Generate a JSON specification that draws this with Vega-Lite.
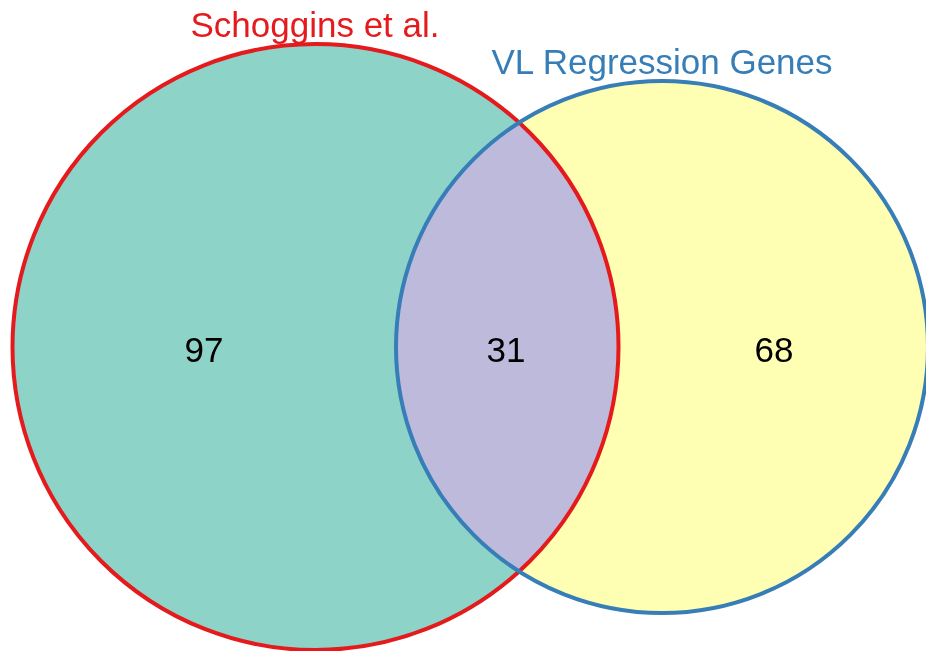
{
  "$schema": "https://vega.github.io/schema/vega-lite/v6.json",
  "width": 926,
  "height": 651,
  "autosize": {"type": "none"},
  "padding": 0,
  "background": "white",
  "config": {"view": {"stroke": null}},
  "datasets": {
    "sets": [
      {"set": "Schoggins et al.", "total": 128, "x": 315.5, "y": 347, "lx": 315, "ly": 37},
      {"set": "VL Regression Genes", "total": 99, "x": 662, "y": 347, "lx": 662, "ly": 74}
    ],
    "regions": [
      {"region": "Schoggins et al. only", "count": 97, "x": 204, "y": 362},
      {"region": "Both", "count": 31, "x": 506, "y": 362},
      {"region": "VL Regression Genes only", "count": 68, "x": 774, "y": 362}
    ]
  },
  "encoding": {
    "x": {"field": "x", "type": "quantitative", "scale": {"domain": [0, 926], "nice": false, "zero": false}, "axis": null},
    "y": {"field": "y", "type": "quantitative", "scale": {"domain": [651, 0], "nice": false, "zero": false}, "axis": null}
  },
  "layer": [
    {
      "data": {"name": "sets"},
      "transform": [{"filter": "datum.set === 'VL Regression Genes'"}],
      "mark": {"type": "point", "shape": "circle", "filled": true, "fill": "white", "opacity": 1, "strokeWidth": 0},
      "encoding": {"size": {"field": "total", "type": "quantitative", "scale": {"domain": [99, 128], "range": [283024, 367236]}, "legend": null}}
    },
    {
      "data": {"name": "sets"},
      "transform": [{"filter": "datum.set === 'Schoggins et al.'"}],
      "mark": {"type": "point", "shape": "circle", "filled": true, "fill": "#8dd3c7", "opacity": 1, "strokeWidth": 0},
      "encoding": {"size": {"field": "total", "type": "quantitative", "legend": null}}
    },
    {
      "data": {"name": "sets"},
      "transform": [{"filter": "datum.set === 'VL Regression Genes'"}],
      "mark": {"type": "point", "shape": "circle", "filled": true, "fill": "rgb(0,0,207)", "opacity": 1, "strokeWidth": 0, "blend": "difference"},
      "encoding": {"size": {"field": "total", "type": "quantitative", "legend": null}}
    },
    {
      "data": {"name": "sets"},
      "transform": [{"filter": "datum.set === 'VL Regression Genes'"}],
      "mark": {"type": "point", "shape": "circle", "filled": true, "fill": "rgb(0,0,227)", "opacity": 1, "strokeWidth": 0, "blend": "difference"},
      "encoding": {"size": {"field": "total", "type": "quantitative", "legend": null}}
    },
    {
      "data": {"name": "sets"},
      "transform": [{"filter": "datum.set === 'VL Regression Genes'"}],
      "mark": {"type": "point", "shape": "circle", "filled": true, "fill": "rgb(110,0,0)", "opacity": 1, "strokeWidth": 0, "blend": "screen"},
      "encoding": {"size": {"field": "total", "type": "quantitative", "legend": null}}
    },
    {
      "data": {"name": "sets"},
      "transform": [{"filter": "datum.set === 'VL Regression Genes'"}],
      "mark": {"type": "point", "shape": "circle", "filled": true, "fill": "rgb(255,163,255)", "opacity": 1, "strokeWidth": 0, "blend": "color-burn"},
      "encoding": {"size": {"field": "total", "type": "quantitative", "legend": null}}
    },
    {
      "data": {"name": "sets"},
      "mark": {"type": "point", "shape": "circle", "filled": false, "opacity": 1, "strokeWidth": 4},
      "encoding": {
        "size": {"field": "total", "type": "quantitative", "legend": null},
        "stroke": {"field": "set", "type": "nominal", "scale": {"domain": ["Schoggins et al.", "VL Regression Genes"], "range": ["#e41a1c", "#377eb8"]}, "legend": null}
      }
    },
    {
      "data": {"name": "sets"},
      "mark": {"type": "text", "font": "Liberation Sans", "fontSize": 35, "align": "center", "baseline": "alphabetic"},
      "encoding": {
        "x": {"field": "lx", "type": "quantitative"},
        "y": {"field": "ly", "type": "quantitative"},
        "text": {"field": "set"},
        "fill": {"field": "set", "type": "nominal", "scale": {"domain": ["Schoggins et al.", "VL Regression Genes"], "range": ["#e41a1c", "#377eb8"]}, "legend": null}
      }
    },
    {
      "data": {"name": "regions"},
      "mark": {"type": "text", "font": "Liberation Sans", "fontSize": 35, "align": "center", "baseline": "alphabetic", "color": "black"},
      "encoding": {"text": {"field": "count", "type": "quantitative"}}
    }
  ]
}
